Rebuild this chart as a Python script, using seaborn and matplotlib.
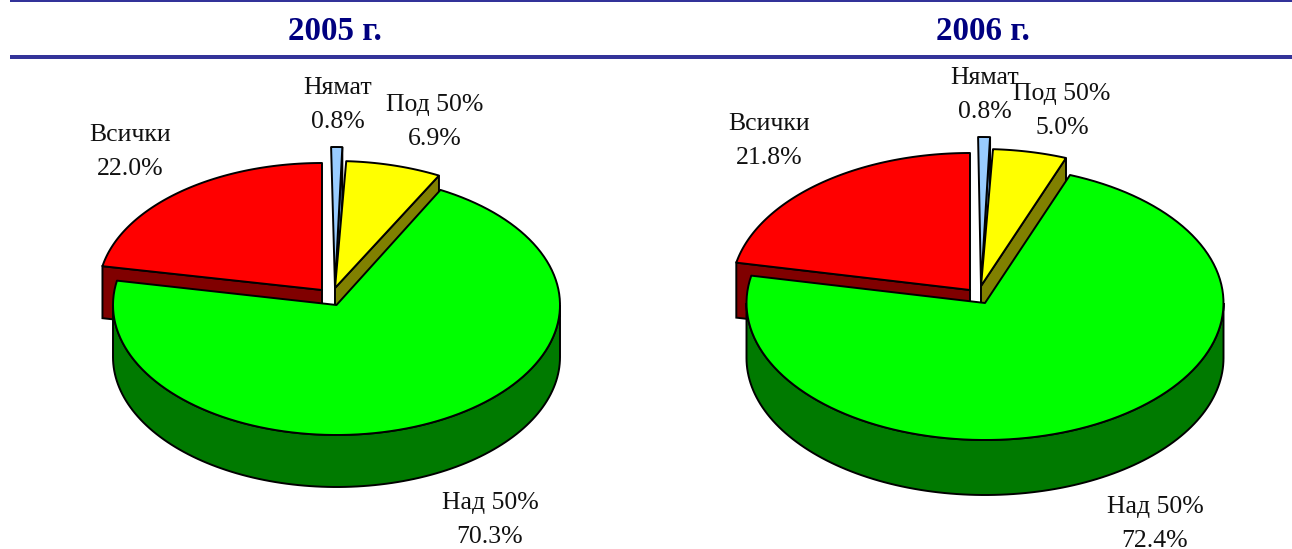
import numpy as np
import matplotlib
matplotlib.use("Agg")
import matplotlib.pyplot as plt
import seaborn as sns

# data
categories = ['Нямат', 'Под 50%', 'Над 50%', 'Всички']
values_2005 = [0.8, 6.9, 70.3, 22.0]
values_2006 = [0.8, 5.0, 72.4, 21.8]
titles = ['2005 г.', '2006 г.']

top_colors = ['#99CCFF', '#FFFF00', '#00FF00', '#FF0000']
side_colors = ['#6F9FD8', '#808000', '#007A00', '#800000']

sns.set_theme(style='white')
plt.rcParams['font.family'] = ['Liberation Serif', 'DejaVu Serif']

LW = 1.4


def arc(cx, cy, rx, ry, a0, a1):
    a = np.radians(np.linspace(a0, a1, 120))
    return cx + rx * np.sin(a), cy - ry * np.cos(a)


def wedge(ax, apex, rx, ry, a0, a1, color):
    x, y = arc(apex[0], apex[1], rx, ry, a0, a1)
    ax.fill(np.r_[apex[0], x], np.r_[apex[1], y], facecolor=color, edgecolor='black', lw=LW, joinstyle='round')


def edge_side(ax, apex, rx, ry, angle, depth, color):
    # flat cut face of a slice, hanging under the edge at the given angle
    x, y = arc(apex[0], apex[1], rx, ry, angle, angle)
    xs = [apex[0], x[0], x[0], apex[0]]
    ys = [apex[1], y[0], y[0] + depth, apex[1] + depth]
    ax.fill(xs, ys, facecolor=color, edgecolor='black', lw=LW)


def pie3d(ax, values, apexes, rx, ry, green_ry, depth, blue_ry, blue_turn):
    edges = np.r_[0, np.cumsum(values)] * 3.6
    blue, yellow, green, red = 0, 1, 2, 3

    edge_side(ax, apexes[red], rx, ry, edges[red], depth, side_colors[red])
    wedge(ax, apexes[red], rx, ry, edges[red], 360, top_colors[red])

    edge_side(ax, apexes[blue], rx, blue_ry, edges[1] + blue_turn, depth, side_colors[blue])
    wedge(ax, apexes[blue], rx, blue_ry, edges[0] + blue_turn, edges[1] + blue_turn, top_colors[blue])

    edge_side(ax, apexes[yellow], rx, ry, edges[2], depth, side_colors[yellow])
    wedge(ax, apexes[yellow], rx, ry, edges[1], edges[2], top_colors[yellow])

    # rim of the big slice, then its top
    x, y = arc(apexes[green][0], apexes[green][1], rx, green_ry, 90, 270)
    ax.fill(np.r_[x, x[::-1]], np.r_[y, y[::-1] + depth], facecolor=side_colors[green], edgecolor='black', lw=LW)
    wedge(ax, apexes[green], rx, green_ry, edges[green], edges[green + 1], top_colors[green])


fig = plt.figure(figsize=(12.92, 5.49), dpi=100)
ax = fig.add_axes([0, 0, 1, 1])
ax.set_xlim(0, 1292)
ax.set_ylim(549, 0)
ax.axis('off')

# header rules
ax.fill([10, 1292, 1292, 10], [0, 0, 2, 2], color='#333399', lw=0)
ax.fill([10, 1292, 1292, 10], [55, 55, 59, 59], color='#333399', lw=0)
ax.text(335, 31, titles[0], ha='center', va='center', fontsize=23.8, fontweight='bold', color='#000080')
ax.text(983, 31, titles[1], ha='center', va='center', fontsize=23.8, fontweight='bold', color='#000080')

pie3d(ax, values_2005, [(335, 288), (335, 288), (336.5, 305), (322, 290)], 223.5, 127, 130, 52, 141, -1.0)
pie3d(ax, values_2006, [(981, 286), (981, 286), (985, 303), (970, 290)], 238.5, 137, 137, 55, 149, -0.7)

# slice labels
label_pos_2005 = [(338, 105), (435, 122), (490, 520), (130, 152)]
label_pos_2006 = [(985, 95), (1062, 111), (1155, 524), (769, 141)]
for vals, positions in [(values_2005, label_pos_2005), (values_2006, label_pos_2006)]:
    for name, v, (x, y) in zip(categories, vals, positions):
        ax.text(x, y, f'{name}\n{v:.1f}%', ha='center', va='center', fontsize=18.5,
                color='#111111', linespacing=1.65)

fig.savefig('out.png', dpi=100)
